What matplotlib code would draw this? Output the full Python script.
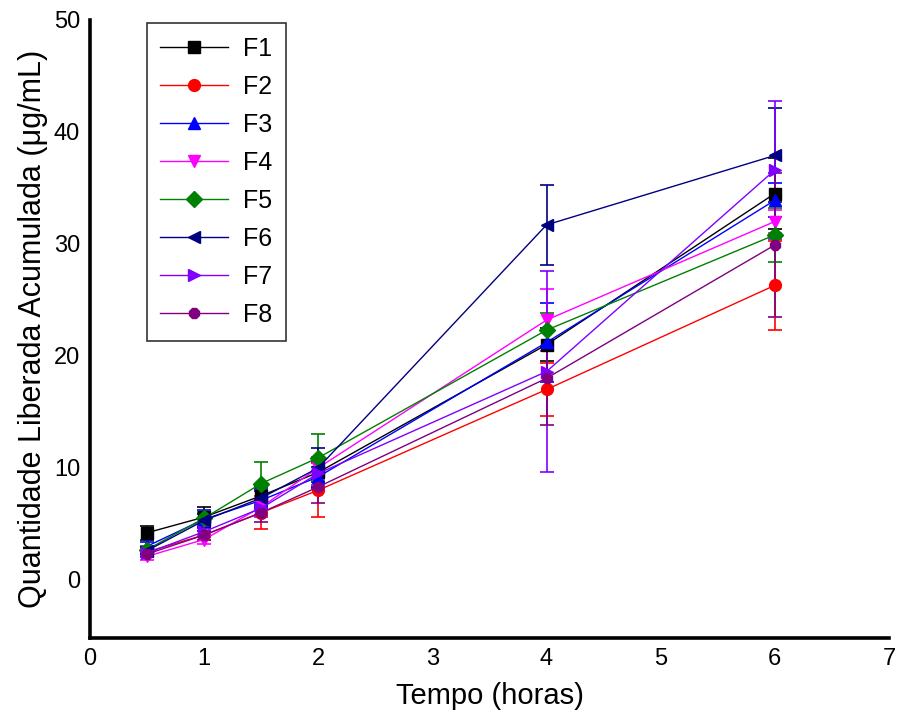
import matplotlib
matplotlib.use("Agg")
import matplotlib.pyplot as plt
from matplotlib.container import ErrorbarContainer

plt.rcParams['font.family'] = ['Liberation Sans', 'DejaVu Sans']

tempo = [0.5, 1, 1.5, 2, 4, 6]
labels = ["F1", "F2", "F3", "F4", "F5", "F6", "F7", "F8"]

F1 = [4.2, 5.6, 7.5, 9.6, 21.0, 34.5]
F2 = [2.5, 4.0, 6.0, 8.0, 17.0, 26.3]
F3 = [3.0, 5.4, 7.1, 9.2, 21.2, 33.9]
F4 = [2.1, 3.6, 6.5, 10.0, 23.2, 32.0]
F5 = [2.7, 5.5, 8.6, 10.9, 22.3, 30.8]
F6 = [2.6, 5.3, 7.3, 10.0, 31.7, 37.9]
F7 = [2.4, 4.3, 6.4, 9.5, 18.6, 36.6]
F8 = [2.3, 4.0, 6.0, 8.3, 18.0, 29.9]

E1 = [0.6, 0.9, 0.8, 0.9, 1.5, 3.2]
E2 = [0.3, 0.4, 1.5, 2.4, 2.4, 4.0]
E3 = [0.4, 0.8, 0.8, 0.9, 3.5, 1.5]
E4 = [0.3, 0.4, 0.7, 1.0, 2.8, 1.0]
E5 = [0.3, 0.6, 1.9, 2.1, 1.5, 2.4]
E6 = [0.3, 0.6, 0.8, 1.8, 3.6, 4.2]
E7 = [0.3, 0.5, 0.8, 1.0, 9.0, 6.2]
E8 = [0.3, 0.4, 0.8, 1.4, 4.2, 6.4]

series = [F1, F2, F3, F4, F5, F6, F7, F8]
errors = [E1, E2, E3, E4, E5, E6, E7, E8]
colors = ["black", "red", "blue", "magenta", "#008000", "#000080", "#8000FF", "#800080"]
markers = ["s", "o", "^", "v", "D", "<", ">", "8"]

fig = plt.figure(figsize=(8.97, 7.14), dpi=100)
ax = fig.add_axes([0.1003, 0.1064, 0.8907, 0.8656])

for y, e, c, m, lab in zip(series, errors, colors, markers, labels):
    ax.errorbar(tempo, y, yerr=e, color=c, marker=m, markersize=8.5,
                linewidth=1.0, elinewidth=1.2, capsize=5, capthick=1.2,
                label=lab, markeredgecolor=c)

ax.set_xlim(0, 7)
ax.set_ylim(-5.2, 50)
ax.set_xticks(range(0, 8))
ax.set_yticks(range(0, 51, 10))
ax.tick_params(length=0, labelsize=17, pad=7)
for s in ["top", "right"]:
    ax.spines[s].set_visible(False)
for s in ["left", "bottom"]:
    ax.spines[s].set_linewidth(2.6)

ax.set_xlabel("Tempo (horas)", fontsize=21, labelpad=9)
ax.set_ylabel("Quantidade Liberada Acumulada (μg/mL)", fontsize=22, labelpad=4)

handles, labs = ax.get_legend_handles_labels()
handles = [h[0] if isinstance(h, ErrorbarContainer) else h for h in handles]
leg = ax.legend(handles, labs, loc="upper left", bbox_to_anchor=(0.071, 0.995),
                fontsize=18, frameon=True, fancybox=False, edgecolor="black",
                handlelength=2.7, labelspacing=0.56, borderpad=0.55,
                handletextpad=0.6, borderaxespad=0)
leg.get_frame().set_linewidth(1.2)

fig.savefig("out.png", dpi=100)
